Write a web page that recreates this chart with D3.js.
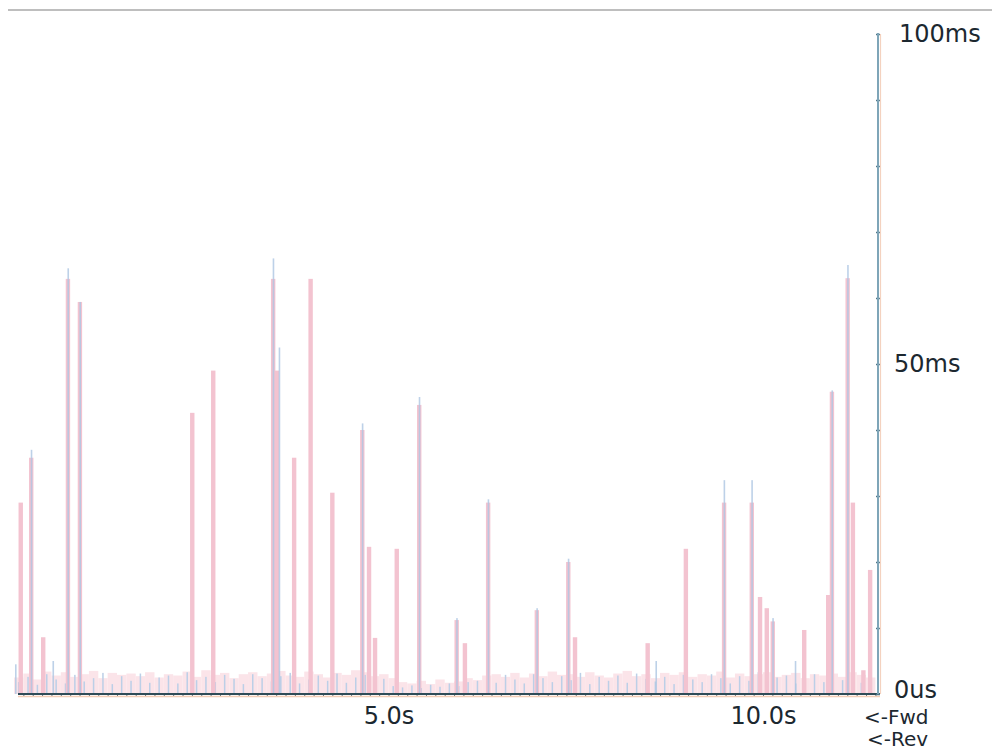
<!DOCTYPE html>
<html>
<head>
<meta charset="utf-8">
<script src="https://cdn.jsdelivr.net/npm/d3@7"></script>
<style>
  body { margin: 0; background: #fff; }
  text { font-family: "DejaVu Sans", Verdana, sans-serif; fill: #1c2830; }
</style>
</head>
<body>
<div id="chart"></div>
<script>
// big latency spikes, [time in s, value in ms]
var fwdSpikes = [
  [0.09, 29], [0.23, 35.8], [0.39, 8.6], [0.72, 62.9], [0.88, 59.4],
  [2.38, 42.6], [2.66, 49], [3.46, 62.9], [3.51, 49], [3.74, 35.8],
  [3.96, 62.9], [4.25, 30.5], [4.65, 40], [4.74, 22.3], [4.82, 8.5],
  [5.11, 22], [5.41, 43.8], [5.91, 11.2], [6.02, 7.7], [6.33, 29],
  [6.98, 12.7], [7.40, 20], [7.49, 8.6], [8.46, 7.7], [8.97, 22],
  [9.48, 29], [9.85, 29], [9.96, 14.7], [10.05, 13], [10.13, 11],
  [10.55, 9.7], [10.87, 15], [10.92, 45.8], [11.13, 63], [11.20, 29],
  [11.34, 3.6], [11.43, 18.8]
];
var revSpikes = [
  [0.02, 4.5], [0.23, 37], [0.52, 5], [0.72, 64.5], [0.88, 59.4],
  [3.46, 66], [3.54, 52.5], [4.65, 41], [5.41, 45], [5.91, 11.5],
  [6.33, 29.5], [6.98, 13], [7.40, 20.5], [8.57, 5], [9.48, 32.4],
  [9.85, 32.4], [10.13, 11.5], [10.43, 5], [10.92, 46], [11.13, 65]
];
// background noise per 0.125 s bin (ms)
var fwdBase = [2.5,3.1,2.2,3.4,2.8,3.3,2.6,3.0,3.5,2.4,3.2,2.9,3.1,2.7,3.3,2.5,3.0,2.8,3.4,2.6,
  3.6,2.9,3.2,2.4,3.0,3.3,2.7,3.1,3.5,2.8,2.6,3.4,3.0,2.5,3.2,2.9,3.6,3.3,2.7,3.0,
  2.4,1.8,1.6,2.0,1.5,2.2,1.7,1.9,2.4,2.1,2.8,3.0,2.6,3.2,2.5,3.1,2.7,3.4,2.9,3.0,
  2.6,3.3,2.8,2.5,3.1,3.5,2.7,3.0,2.4,3.2,2.9,3.3,2.6,3.0,2.8,3.4,2.5,3.1,2.7,3.0,
  3.3,2.6,2.9,3.2,2.4,3.0,2.8,3.1,2.6,3.3,2.9,2.5];
var revBase = [1.8,2.6,1.4,3.0,2.2,1.6,2.9,1.9,2.4,3.2,1.5,2.7,2.0,3.1,1.7,2.5,2.8,1.6,3.3,2.1,
  2.6,1.8,2.9,2.3,1.5,3.0,2.4,1.9,2.7,3.2,1.6,2.2,2.8,2.0,3.1,1.7,2.5,2.9,1.4,2.3,
  1.2,1.0,1.3,0.9,1.4,1.1,1.6,1.2,1.8,2.0,2.5,1.7,2.9,2.2,1.6,3.0,2.4,1.8,2.7,2.1,
  3.2,1.5,2.6,2.0,2.8,1.7,3.1,2.3,1.9,2.6,1.5,2.9,2.2,1.8,3.0,2.4,1.6,2.7,2.0,3.3,
  1.9,2.5,2.8,1.6,2.2,3.0,1.8,2.6,2.1,2.9,1.7,2.4];
var yTickLabels = {0: "0us", 50: "50ms", 100: "100ms"};
var xTickLabels = {5: "5.0s", 10: "10.0s"};

var width = 992, height = 755;
var svg = d3.select("#chart").append("svg")
  .attr("width", width)
  .attr("height", height);

var defs = svg.append("defs");
defs.append("filter").attr("id", "soft")
  .append("feGaussianBlur").attr("stdDeviation", 0.5);

var x = d3.scaleLinear().domain([0, 11.535]).range([14, 878]);
var y = d3.scaleLinear().domain([0, 100]).range([694, 34]);
var binStep = 0.125;

// top rule
svg.append("line")
  .attr("x1", 8).attr("x2", width).attr("y1", 10).attr("y2", 10)
  .attr("stroke", "#a9a9a9").attr("stroke-width", 1.5);

var marks = svg.append("g").attr("filter", "url(#soft)");

marks.selectAll("rect.fbase")
  .data(fwdBase)
  .enter().append("rect")
    .attr("class", "fbase")
    .attr("x", function (d, i) { return x(i * binStep); })
    .attr("width", 9.4)
    .attr("y", function (d) { return y(d); })
    .attr("height", function (d) { return y(0) - y(d); })
    .attr("fill", "#fbe4e9");

marks.selectAll("rect.rbase")
  .data(revBase)
  .enter().append("rect")
    .attr("class", "rbase")
    .attr("x", function (d, i) { return x(i * binStep + binStep / 2) - 0.75; })
    .attr("width", 1.5)
    .attr("y", function (d) { return y(d); })
    .attr("height", function (d) { return y(0) - y(d); })
    .attr("fill", "#bccfe7");

marks.selectAll("rect.fwd")
  .data(fwdSpikes)
  .enter().append("rect")
    .attr("class", "fwd")
    .attr("x", function (d) { return x(d[0]) - 2.2; })
    .attr("width", 4.4)
    .attr("y", function (d) { return y(d[1]); })
    .attr("height", function (d) { return y(0) - y(d[1]); })
    .attr("fill", "#f3c3d0");

marks.selectAll("rect.rev")
  .data(revSpikes)
  .enter().append("rect")
    .attr("class", "rev")
    .attr("x", function (d) { return x(d[0]) - 0.5; })
    .attr("width", 1.6)
    .attr("y", function (d) { return y(d[1]); })
    .attr("height", function (d) { return y(0) - y(d[1]); })
    .attr("fill", "#adc5e2")
    .attr("opacity", 0.8);

// x axis
var xTicks = d3.range(1, 93).map(function (i) { return i * binStep; });
var xAxis = svg.append("g")
  .attr("transform", "translate(0," + y(0) + ")")
  .call(d3.axisBottom(x)
    .tickValues(xTicks)
    .tickSize(3)
    .tickPadding(10)
    .tickFormat(function (d) { return xTickLabels[d] || ""; }));
xAxis.select(".domain").remove();
xAxis.selectAll(".tick line").attr("stroke", "#41606e");
xAxis.selectAll("text").attr("font-size", 24).style("fill", "#1c2830");
svg.append("line")
  .attr("x1", 18).attr("x2", 880).attr("y1", y(0) + 2.5).attr("y2", y(0) + 2.5)
  .attr("stroke", "#f4cdb6").attr("stroke-width", 1.5);
svg.append("line")
  .attr("x1", 18).attr("x2", 880).attr("y1", y(0)).attr("y2", y(0))
  .attr("stroke", "#2f4c58").attr("stroke-width", 2);

// y axis
var yAxis = svg.append("g")
  .attr("transform", "translate(" + x.range()[1] + ",0)")
  .call(d3.axisRight(y)
    .tickValues(d3.range(0, 101, 10))
    .tickSize(2)
    .tickPadding(14)
    .tickFormat(function (d) { return yTickLabels[d] || ""; }));
yAxis.select(".domain").remove();
yAxis.selectAll(".tick line").attr("x1", -2).attr("stroke", "#4f7587").attr("stroke-width", 1.5);
yAxis.selectAll("text").attr("font-size", 24).style("fill", "#1c2830");
yAxis.selectAll(".tick").filter(function (d) { return d === 100; })
  .select("text").attr("x", 21);
yAxis.selectAll(".tick").filter(function (d) { return d === 0; })
  .select("text").attr("y", -4);
svg.append("line")
  .attr("x1", 880.5).attr("x2", 880.5).attr("y1", y(100)).attr("y2", y(0))
  .attr("stroke", "#f4d2bf").attr("stroke-width", 1.2);
svg.append("line")
  .attr("x1", 878).attr("x2", 878).attr("y1", y(100) - 1).attr("y2", y(0))
  .attr("stroke", "#7ea5b8").attr("stroke-width", 2);

// direction labels
svg.append("text").attr("x", 864).attr("y", 724)
  .attr("font-size", 20).text("<-Fwd");
svg.append("text").attr("x", 867).attr("y", 746)
  .attr("font-size", 20).text("<-Rev");
</script>
</body>
</html>
